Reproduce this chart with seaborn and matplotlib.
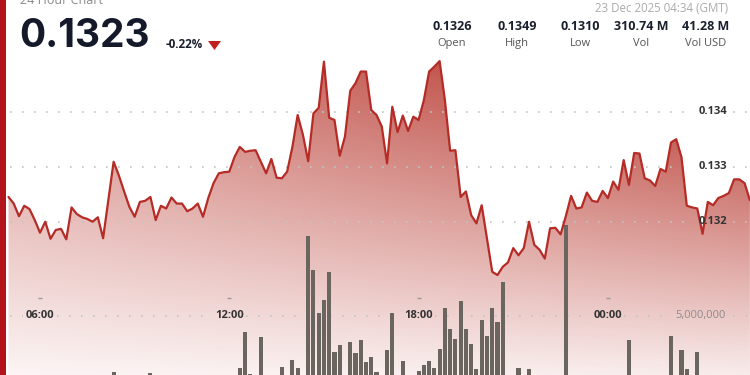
import numpy as np
import pandas as pd
import matplotlib
matplotlib.use("Agg")
import matplotlib.pyplot as plt
import seaborn as sns
from matplotlib.colors import to_rgb
from matplotlib.patches import Rectangle, Polygon, PathPatch
from matplotlib.transforms import blended_transform_factory

# ---------------- data (10-minute points, 22 Dec 05:00 -> 23 Dec 04:30) ----------------
price = [
    0.13245, 0.13233, 0.13210, 0.13229, 0.13223, 0.13203, 0.13180, 0.13200, 0.13169, 0.13185,
    0.13187, 0.13168, 0.13226, 0.13214, 0.13208, 0.13205, 0.13200, 0.13208, 0.13170, 0.13239,
    0.13309, 0.13284, 0.13255, 0.13227, 0.13209, 0.13236, 0.13238, 0.13245, 0.13203, 0.13229,
    0.13224, 0.13244, 0.13233, 0.13233, 0.13219, 0.13224, 0.13233, 0.13209, 0.13243, 0.13270,
    0.13288, 0.13290, 0.13291, 0.13318, 0.13336, 0.13327, 0.13329, 0.13330, 0.13309, 0.13288,
    0.13314, 0.13280, 0.13279, 0.13291, 0.13336, 0.13394, 0.13358, 0.13310, 0.13397, 0.13407,
    0.13491, 0.13389, 0.13385, 0.13320, 0.13355, 0.13438, 0.13452, 0.13473, 0.13473, 0.13403,
    0.13394, 0.13373, 0.13306, 0.13409, 0.13363, 0.13393, 0.13365, 0.13391, 0.13385, 0.13421,
    0.13473, 0.13482, 0.13492, 0.13421, 0.13329, 0.13330, 0.13245, 0.13255, 0.13212, 0.13197,
    0.13230, 0.13170, 0.13109, 0.13103, 0.13118, 0.13126, 0.13152, 0.13139, 0.13152, 0.13200,
    0.13158, 0.13149, 0.13133, 0.13188, 0.13189, 0.13177, 0.13210, 0.13247, 0.13224, 0.13226,
    0.13253, 0.13238, 0.13236, 0.13256, 0.13243, 0.13273, 0.13258, 0.13312, 0.13267, 0.13325,
    0.13324, 0.13279, 0.13275, 0.13265, 0.13296, 0.13291, 0.13344, 0.13350, 0.13317, 0.13229,
    0.13226, 0.13224, 0.13178, 0.13236, 0.13230, 0.13243, 0.13247, 0.13252, 0.13277, 0.13277,
    0.13270, 0.13239,
]
# volume per 10-minute bar, millions
volume_m = [
    0, 0, 0, 0, 0, 0, 0, 0, 0, 0,
    0, 0, 0, 0, 0, 0, 0, 0, 0, 0,
    0.28, 0, 0, 0, 0, 0, 0, 0.17, 0, 0,
    0, 0, 0, 0, 0, 0, 0, 0, 0, 0,
    0, 0, 0, 0, 0.59, 3.60, 0.08, 0, 3.23, 0,
    0, 0, 0.70, 0, 1.26, 0.62, 0, 11.75, 8.85, 5.20,
    6.32, 8.71, 1.91, 2.53, 0, 2.81, 1.83, 2.95, 1.12, 1.54,
    0.28, 0, 2.11, 5.20, 0, 1.18, 0, 0, 0.34, 0.84,
    1.18, 0.62, 2.19, 5.62, 3.85, 3.04, 6.26, 3.88, 2.59, 0.51,
    4.64, 3.31, 5.62, 4.44, 7.82, 0, 0, 0.56, 0, 0.48,
    0, 0, 0, 0, 0, 0, 12.65, 0, 0, 0,
    0, 0, 0, 0, 0, 0, 0, 0, 2.95, 0,
    0, 0, 0, 0, 0, 0, 3.31, 0, 2.11, 0.51,
    0, 1.96, 0, 0, 0, 0, 0, 0, 0, 0,
    0, 0,
]
first_hour = 5.0          # 05:00 on 22 Dec
step_hours = 1.0 / 6.0    # 10 minutes

x_ticks = [6, 12, 18, 24]
x_tick_labels = ["06:00", "12:00", "18:00", "00:00"]
price_ticks = [0.132, 0.133, 0.134]
price_tick_labels = ["0.132", "0.133", "0.134"]
volume_tick = 5.0
volume_tick_label = "5,000,000"

title_text = "24 Hour Chart"
last_price = "0.1323"
change_text = "-0.22%"
timestamp_text = "23 Dec 2025 04:34 (GMT)"
stat_values = ["0.1326", "0.1349", "0.1310", "310.74 M", "41.28 M"]
stat_labels = ["Open", "High", "Low", "Vol", "Vol USD"]

hours = first_hour + step_hours * np.arange(len(price))
df = pd.DataFrame({"hour": hours, "price": price, "volume": volume_m})

# ---------------- styling ----------------
sns.set_style("white")
plt.rcParams["font.family"] = ["Open Sans", "DejaVu Sans"]

W, H = 750, 375
XMIN, XMAX = 4.732, 28.504
PMIN, PMAX = 0.129213, 0.136031
VMAX = 31.62

LINE_C = "#b52b26"
BAR_C = "#6b6560"
GRID_C = "#c4c4c4"
TXT_C = "#333333"

fig = plt.figure(figsize=(7.5, 3.75), dpi=100)
fig.patch.set_facecolor("white")
rect = [0, 0, 1, 1]
ax_fill = fig.add_axes(rect)
ax_vol = fig.add_axes(rect)
ax_line = fig.add_axes(rect)

def fx(px):
    return px / W

def fy(py):
    return 1 - py / H

# ---- gradient area under the price line ----
poly = ax_fill.fill_between(df["hour"], df["price"], PMIN, facecolor="none", edgecolor="none")
clip = PathPatch(poly.get_paths()[0], transform=ax_fill.transData, facecolor="none", edgecolor="none")
ax_fill.add_patch(clip)
ptop = max(price)
ny, nx = 300, 400
ty = np.linspace(1, 0, ny)[:, None]
tx = np.linspace(0, 1, nx)[None, :]
inten = (0.09 + 0.91 * ty) * (0.52 + 0.48 * tx)
red = np.array(to_rgb("#b32c22"))
img = 1 - inten[..., None] * (1 - red)
im = ax_fill.imshow(img, extent=[XMIN, XMAX, PMIN, ptop], origin="upper",
                    aspect="auto", zorder=1, interpolation="bilinear")
im.set_clip_path(clip)
ax_fill.set_xlim(XMIN, XMAX)
ax_fill.set_ylim(PMIN, PMAX)
ax_fill.axis("off")

dots = (0, (1, 6.2))
for p in price_ticks:
    for a, b in [(10, 692), (733, 748)]:
        ax_fill.axhline(p, xmin=fx(a), xmax=fx(b), color=GRID_C, lw=1.2,
                        linestyle=dots, zorder=2)

# ---- volume bars ----
sns.barplot(data=df, x="hour", y="volume", native_scale=True, orient="x",
            width=0.78, color=BAR_C, saturation=1, errorbar=None, ax=ax_vol,
            linewidth=0, edgecolor="none", zorder=3)
ax_vol.set_xlim(XMIN, XMAX)
ax_vol.set_ylim(0, VMAX)
ax_vol.axis("off")
for a, b in [(10, 23), (57, 212), (246, 401), (435, 590), (624, 670), (733, 748)]:
    ax_vol.axhline(volume_tick, xmin=fx(a), xmax=fx(b), color=GRID_C, lw=1.2,
                   linestyle=dots, zorder=1)
for t, lab in zip(x_ticks, x_tick_labels):
    ax_vol.text(t, volume_tick, lab, ha="center", va="center", fontsize=8,
                fontweight="bold", color=TXT_C, zorder=5)
tick_tr = blended_transform_factory(ax_vol.transData, ax_vol.transAxes)
ax_vol.plot(x_ticks, [fy(297.7)] * len(x_ticks), transform=tick_tr, ls="none",
            marker="_", ms=3, mew=1, color="#9a9a9a", zorder=5)
ax_vol.text(fx(701), volume_tick, volume_tick_label,
            transform=blended_transform_factory(ax_vol.transAxes, ax_vol.transData),
            ha="center", va="center", fontsize=8, color="#8c8c8c", zorder=5)

# ---- price line ----
sns.lineplot(data=df, x="hour", y="price", ax=ax_line, color=LINE_C, linewidth=1.6,
             estimator=None, sort=False)
ax_line.set_xlim(XMIN, XMAX)
ax_line.set_ylim(PMIN, PMAX)
ax_line.axis("off")
ytr = blended_transform_factory(ax_line.transAxes, ax_line.transData)
for p, lab in zip(price_ticks, price_tick_labels):
    ax_line.text(fx(713), p, lab, transform=ytr, ha="center", va="center",
                 fontsize=8, fontweight="bold", color=TXT_C)

# ---- header ----
fig.patches.append(Rectangle((0, 0), fx(6), 1, transform=fig.transFigure,
                             facecolor="#b3141b", edgecolor="none", zorder=10))
fig.text(fx(20), fy(4.5), title_text, ha="left", va="baseline", fontsize=9, color="#8a8a8a")
fig.text(fx(19), fy(46.7), last_price, ha="left", va="baseline", fontsize=28,
         fontweight="bold", color="#141a2a", family=["Inter", "DejaVu Sans"])
fig.text(fx(165.7), fy(48), change_text, ha="left", va="baseline", fontsize=8.4,
         fontweight="bold", color="#1a1f2e")
fig.patches.append(Polygon([(fx(208), fy(41)), (fx(221), fy(41)), (fx(214.5), fy(50))],
                           closed=True, transform=fig.transFigure,
                           facecolor="#c0201e", edgecolor="none", zorder=10))
fig.text(fx(728), fy(8.3), timestamp_text, ha="right", va="center", fontsize=8.3,
         color="#ababab")
stat_x = [452, 516.7, 580, 641.5, 706]
for xc, v, lab in zip(stat_x, stat_values, stat_labels):
    fig.text(fx(xc), fy(26), v, ha="center", va="center", fontsize=9,
             fontweight="bold", color="#1a1f2e")
    fig.text(fx(xc), fy(43.3), lab, ha="center", va="center", fontsize=8,
             color="#555555")

fig.savefig("out.png", dpi=100)
